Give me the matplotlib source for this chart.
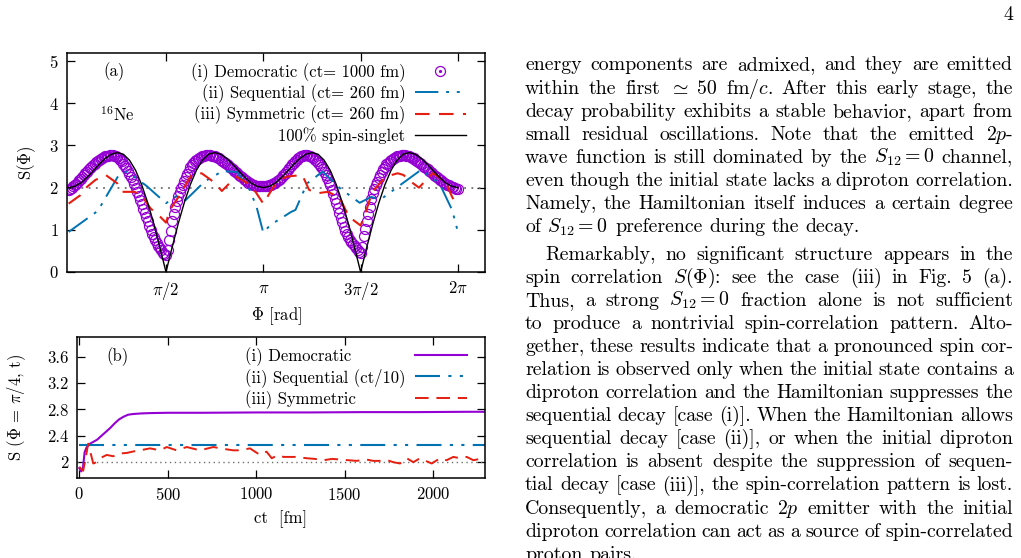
import numpy as np
import matplotlib
matplotlib.use('Agg')
import matplotlib.pyplot as plt
from matplotlib.legend_handler import HandlerTuple

plt.rcParams['font.family'] = ['cmr10', 'DejaVu Serif']
plt.rcParams['mathtext.fontset'] = 'cm'
plt.rcParams['axes.formatter.use_mathtext'] = True
plt.rcParams['axes.unicode_minus'] = False

PURPLE = '#9400d3'
BLUE = '#0072b2'
RED = '#e51e10'

# ---- panel (a): S(Phi)
# 100% spin-singlet, read every pi/32
singlet = [2.00, 2.03, 2.11, 2.24, 2.39, 2.55, 2.69, 2.79, 2.83, 2.79, 2.65, 2.41, 2.07, 1.64, 1.14, 0.58,
           0.00, 0.58, 1.14, 1.64, 2.07, 2.41, 2.65, 2.79, 2.83, 2.79, 2.69, 2.55, 2.39, 2.24, 2.11, 2.03,
           2.00, 2.03, 2.11, 2.24, 2.39, 2.55, 2.69, 2.79, 2.83, 2.79, 2.65, 2.41, 2.07, 1.64, 1.14, 0.58,
           0.00, 0.58, 1.14, 1.64, 2.07, 2.41, 2.65, 2.79, 2.83, 2.79, 2.69, 2.55, 2.39, 2.24, 2.11, 2.03,
           2.00]
# (i) democratic, ct=1000 fm, read every pi/128
democratic = [1.95, 1.97, 2.00, 2.03, 2.06, 2.09, 2.13, 2.17, 2.21, 2.25, 2.29, 2.34, 2.38, 2.42, 2.46, 2.50,
              2.53, 2.57, 2.60, 2.63, 2.65, 2.68, 2.70, 2.72, 2.74, 2.75, 2.76, 2.77, 2.77, 2.77, 2.76, 2.74,
              2.72, 2.69, 2.66, 2.62, 2.57, 2.52, 2.47, 2.40, 2.33, 2.26, 2.18, 2.09, 2.00, 1.90, 1.80, 1.70,
              1.60, 1.50, 1.41, 1.30, 1.20, 1.10, 1.00, 0.91, 0.82, 0.75, 0.68, 0.62, 0.56, 0.51, 0.46, 0.42,
              0.40, 0.52, 0.75, 0.98, 1.20, 1.38, 1.55, 1.68, 1.80, 1.89, 1.98, 2.07, 2.15, 2.24, 2.32, 2.40,
              2.48, 2.53, 2.58, 2.62, 2.65, 2.68, 2.71, 2.73, 2.75, 2.76, 2.77, 2.77, 2.77, 2.77, 2.76, 2.75,
              2.74, 2.73, 2.71, 2.69, 2.66, 2.64, 2.61, 2.59, 2.56, 2.53, 2.50, 2.47, 2.43, 2.40, 2.37, 2.34,
              2.30, 2.27, 2.24, 2.21, 2.18, 2.15, 2.12, 2.10, 2.08, 2.06, 2.05, 2.04, 2.04, 2.04, 2.04, 2.03,
              2.03, 2.03, 2.03, 2.04, 2.05, 2.06, 2.08, 2.10, 2.12, 2.15, 2.18, 2.21, 2.25, 2.29, 2.33, 2.37,
              2.42, 2.46, 2.51, 2.55, 2.59, 2.63, 2.66, 2.69, 2.72, 2.74, 2.76, 2.77, 2.77, 2.77, 2.76, 2.74,
              2.72, 2.69, 2.66, 2.62, 2.58, 2.53, 2.48, 2.43, 2.37, 2.30, 2.22, 2.14, 2.05, 1.95, 1.85, 1.74,
              1.63, 1.51, 1.40, 1.29, 1.18, 1.07, 0.97, 0.89, 0.82, 0.77, 0.72, 0.67, 0.62, 0.57, 0.52, 0.48,
              0.44, 0.60, 0.85, 1.03, 1.20, 1.38, 1.55, 1.72, 1.88, 1.97, 2.05, 2.14, 2.22, 2.30, 2.37, 2.44,
              2.50, 2.55, 2.59, 2.62, 2.65, 2.68, 2.70, 2.72, 2.74, 2.75, 2.76, 2.77, 2.77, 2.77, 2.76, 2.75,
              2.74, 2.73, 2.71, 2.69, 2.66, 2.64, 2.61, 2.58, 2.56, 2.52, 2.49, 2.46, 2.43, 2.40, 2.37, 2.34,
              2.31, 2.28, 2.25, 2.22, 2.19, 2.17, 2.14, 2.11, 2.09, 2.07, 2.05, 2.03, 2.02, 2.01, 1.99, 1.97,
              1.96]
# (ii) sequential, ct=260 fm (Phi in units of pi)
seq_phi = [0.000, 0.150, 0.255, 0.300, 0.400, 0.500, 0.555, 0.600, 0.700, 0.790, 0.865, 0.930, 0.965, 1.000,
           1.035, 1.145, 1.165, 1.225, 1.305, 1.395, 1.495, 1.555, 1.600, 1.715, 1.810, 1.905, 1.970, 2.000]
seq_s = [0.95, 1.45, 2.28, 2.38, 2.04, 1.63, 1.80, 1.70, 2.15, 2.39, 2.37, 1.95, 1.55, 0.93,
         1.11, 1.43, 1.47, 2.10, 2.38, 1.98, 1.64, 1.78, 1.71, 2.10, 2.42, 2.10, 1.47, 0.95]
# (iii) symmetric, ct=260 fm (Phi in units of pi)
sym_phi = [0.000, 0.060, 0.095, 0.137, 0.190, 0.250, 0.275, 0.340, 0.385, 0.420, 0.470, 0.500, 0.520, 0.570,
           0.630, 0.683, 0.743, 0.787, 0.860, 0.920, 0.960, 1.000, 1.050, 1.085, 1.120, 1.200, 1.235, 1.270,
           1.330, 1.390, 1.440, 1.500, 1.530, 1.560, 1.630, 1.690, 1.720, 1.770, 1.800, 1.870, 1.900, 1.940,
           1.970, 2.000]
sym_s = [1.62, 1.82, 2.02, 2.18, 2.30, 2.10, 1.90, 1.90, 1.75, 1.51, 1.31, 1.17, 1.47, 1.82,
         2.30, 2.34, 2.14, 1.92, 2.26, 2.10, 1.90, 1.62, 2.00, 2.18, 2.26, 2.30, 1.95, 1.86,
         1.90, 1.78, 1.31, 1.10, 1.47, 1.90, 2.26, 2.34, 2.30, 2.10, 2.00, 2.34, 2.26, 2.10,
         1.78, 1.55]
labels_a = ['(i) Democratic (ct= 1000 fm)', '(ii) Sequential (ct= 260 fm)',
            '(iii) Symmetric (ct= 260 fm)', '100% spin-singlet']
xticks_a = [0.5, 1.0, 1.5, 2.0]
xticklabels_a = [r'$\pi/2$', r'$\pi$', r'$3\pi/2$', r'$2\pi$']

# ---- panel (b): S(Phi=pi/4, t)
ct_dem = [0, 10, 20, 30, 40, 60, 80, 100, 125, 150, 175, 200, 225, 250, 275, 300, 350, 400, 500, 700,
          1000, 1300, 1600, 1900, 2200, 2300]
s_dem = [1.91, 1.86, 1.90, 2.15, 2.22, 2.28, 2.31, 2.34, 2.40, 2.46, 2.52, 2.59, 2.65, 2.69, 2.72, 2.73,
         2.74, 2.745, 2.75, 2.75, 2.755, 2.755, 2.76, 2.76, 2.765, 2.765]
ct_seq = [0, 500, 1000, 1500, 2000, 2300]
s_seq = [2.255, 2.255, 2.255, 2.255, 2.255, 2.255]
ct_sym = [0, 10, 22, 35, 50, 60, 79, 98, 117, 155, 192, 220, 268, 300, 343, 400, 456, 494, 550, 607,
          682, 757, 820, 870, 908, 964, 1021, 1058, 1087, 1124, 1153, 1219, 1285, 1330, 1379, 1430, 1472,
          1520, 1566, 1623, 1660, 1699, 1740, 1774, 1812, 1850, 1887, 1925, 1991, 2038, 2075, 2113, 2151,
          2189, 2226, 2283, 2300]
s_sym = [1.93, 1.90, 1.87, 2.05, 2.28, 2.18, 1.98, 2.00, 2.06, 2.11, 2.09, 2.13, 2.14, 2.16, 2.18, 2.21,
         2.18, 2.23, 2.18, 2.23, 2.18, 2.23, 2.20, 2.18, 2.18, 2.21, 2.11, 2.16, 2.06, 2.11, 2.08, 2.08,
         2.06, 2.05, 2.03, 2.05, 2.04, 2.03, 2.02, 2.04, 2.02, 2.02, 2.03, 2.00, 1.98, 2.06, 2.00, 2.06,
         1.98, 2.06, 2.03, 2.08, 2.06, 2.08, 2.03, 2.06, 2.05]
labels_b = ['(i) Democratic', '(ii) Sequential (ct/10)', '(iii) Symmetric']
xticks_b = [0, 500, 1000, 1500, 2000]
yticks_b = [2, 2.4, 2.8, 3.2, 3.6]
yticklabels_b = ['2', '2.4', '2.8', '3.2', '3.6']

# ---- page text (right column)
para1 = ["energy components are admixed, and they are emitted",
         r"within the first $\simeq$ 50 fm/$c$. After this early stage, the",
         "decay probability exhibits a stable behavior, apart from",
         r"small residual oscillations. Note that the emitted 2$p$-",
         r"wave function is still dominated by the $S_{12}=0$ channel,",
         "even though the initial state lacks a diproton correlation.",
         "Namely, the Hamiltonian itself induces a certain degree",
         r"of $S_{12}=0$ preference during the decay."]
para2 = ["Remarkably, no significant structure appears in the",
         r"spin correlation $S(\Phi)$: see the case (iii) in Fig. 5 (a).",
         r"Thus, a strong $S_{12}=0$ fraction alone is not sufficient",
         "to produce a nontrivial spin-correlation pattern. Alto-",
         "gether, these results indicate that a pronounced spin cor-",
         "relation is observed only when the initial state contains a",
         "diproton correlation and the Hamiltonian suppresses the",
         "sequential decay [case (i)]. When the Hamiltonian allows",
         "sequential decay [case (ii)], or when the initial diproton",
         "correlation is absent despite the suppression of sequen-",
         "tial decay [case (iii)], the spin-correlation pattern is lost.",
         r"Consequently, a democratic 2$p$ emitter with the initial",
         "diproton correlation can act as a source of spin-correlated",
         "proton pairs."]

FS_PLOT = 12
FS_TEXT = 14.3
W, H = 1021, 558

fig = plt.figure(figsize=(W / 100, H / 100), dpi=100)
ax1 = fig.add_axes([67 / W, 1 - 272 / H, (485 - 67) / W, (272 - 53) / H])
ax2 = fig.add_axes([77 / W, 1 - 478 / H, (485 - 77) / W, (478 - 337) / H])

for ax in (ax1, ax2):
    for sp in ax.spines.values():
        sp.set_linewidth(1.1)
    ax.tick_params(direction='in', length=6, width=0.9, top=True, right=True,
                   labelsize=FS_PLOT, pad=6)

# panel (a)
ax1.axhline(2, color='#707070', lw=1.3, ls=(0, (1, 3)))
ring, = ax1.plot(np.pi * np.arange(len(democratic)) / 128, democratic, ls='none', marker='o',
                 ms=7.2, mfc='none', mec=PURPLE, mew=0.9)
dot, = ax1.plot([], [], ls='none', marker='o', ms=1.3, color=PURPLE)
l_seq, = ax1.plot(np.pi * np.array(seq_phi), seq_s, color=BLUE, lw=1.4,
                  ls=(0, (12, 4, 1.5, 4, 1.5, 4)))
l_sym, = ax1.plot(np.pi * np.array(sym_phi), sym_s, color=RED, lw=1.5, ls=(0, (7, 4.5)))
l_sing, = ax1.plot(np.pi * np.arange(len(singlet)) / 32, singlet, color='k', lw=1.0)
ax1.set_xlim(-0.027, 6.72)
ax1.set_ylim(0, 5.19)
ax1.set_xticks(np.pi * np.array(xticks_a))
ax1.set_xticklabels(xticklabels_a)
ax1.set_yticks(range(6))
ax1.set_xlabel(r'$\Phi$ [rad]', fontsize=FS_PLOT, labelpad=2)
ax1.set_ylabel(r'S($\Phi$)', fontsize=FS_PLOT, labelpad=8)
ax1.text(0.112, 0.913, '(a)', transform=ax1.transAxes, ha='center', va='center', fontsize=FS_PLOT)
ax1.text(0.121, 0.717, r'$^{16}$Ne', transform=ax1.transAxes, ha='center', va='center',
         fontsize=FS_PLOT)
leg1 = ax1.legend([(ring, dot), l_seq, l_sym, l_sing], labels_a, loc='upper right',
                  bbox_to_anchor=(0.955, 0.955), frameon=False, markerfirst=False,
                  handlelength=3.1, handletextpad=0.55, labelspacing=0.16, borderpad=0,
                  borderaxespad=0, fontsize=FS_PLOT, handler_map={tuple: HandlerTuple(ndivide=1)})

# panel (b)
ax2.axhline(2, color='#707070', lw=1.0, ls=(0, (1, 2.5)))
d_dem, = ax2.plot(ct_dem, s_dem, color=PURPLE, lw=1.5)
d_seq, = ax2.plot(ct_seq, s_seq, color=BLUE, lw=1.5, ls=(0, (12, 4, 1.5, 4, 1.5, 4)))
d_sym, = ax2.plot(ct_sym, s_sym, color=RED, lw=1.4, ls=(0, (7, 4)))
ax2.set_xlim(-13, 2292)
ax2.set_ylim(1.76, 3.9)
ax2.set_xticks(xticks_b)
ax2.set_yticks(yticks_b)
ax2.set_yticklabels(yticklabels_b)
ax2.set_xlabel('ct  [fm]', fontsize=FS_PLOT, labelpad=5)
ax2.set_ylabel(r'S ($\Phi$ = $\pi$/4, t)', fontsize=FS_PLOT, labelpad=14)
ax2.text(0.10, 0.858, '(b)', transform=ax2.transAxes, ha='center', va='center', fontsize=FS_PLOT)
leg2 = ax2.legend([d_dem, d_seq, d_sym], labels_b, loc='upper right',
                  bbox_to_anchor=(0.955, 0.93), frameon=False, markerfirst=False,
                  handlelength=3.1, handletextpad=0.55, labelspacing=0.16, borderpad=0,
                  borderaxespad=0, fontsize=FS_PLOT)

# page number and text column
fig.text(1013 / W, 1 - 20 / H, '4', ha='right', va='baseline', fontsize=FS_TEXT)

LINE = 23.1
X0, X1 = 525, 1013


def make_words(lines, base):
    rows = []
    for i, line in enumerate(lines):
        y = 1 - (base + i * LINE) / H
        rows.append([fig.text(0, y, w, fontsize=FS_TEXT, va='baseline') for w in line.split()])
    return rows


rows1 = make_words(para1, 70.5)
rows2 = make_words(para2, 259.5)

fig.canvas.draw()
rend = fig.canvas.get_renderer()


def justify(rows, indent):
    space = 0.333 * FS_TEXT * fig.dpi / 72
    for i, words in enumerate(rows):
        ws = [t.get_window_extent(rend).width for t in words]
        start = X0 + (indent if i == 0 else 0)
        last = i == len(rows) - 1
        gap = space if (last or len(words) < 2) else (X1 - start - sum(ws)) / (len(words) - 1)
        x = start
        for t, w in zip(words, ws):
            t.set_x(x / W)
            x += w + gap


justify(rows1, 0)
justify(rows2, 20)

# left-aligned legend text in (b), handles kept in one column
texts = leg2.get_texts()
tw = [t.get_window_extent(rend).width for t in texts]
for row, w in zip(leg2._legend_handle_box.get_children()[0].get_children(), tw):
    row.sep += (max(tw) - w) * 72 / fig.dpi

fig.savefig('out.png', dpi=100)
